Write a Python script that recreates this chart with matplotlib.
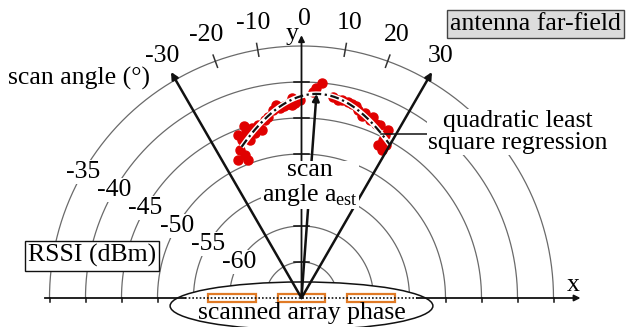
import numpy as np
import matplotlib
matplotlib.use('Agg')
import matplotlib.pyplot as plt
from matplotlib.patches import Ellipse, Rectangle

plt.rcParams['font.family'] = ['Liberation Serif', 'DejaVu Serif']
plt.rcParams['mathtext.fontset'] = 'custom'
plt.rcParams['mathtext.rm'] = 'Liberation Serif'

# measured RSSI samples: scan angle (deg, from y axis) and RSSI (dBm)
scan_deg = [-22.6, -20.6, -18.6, -21.6, -16.2, -14.1, -11.6, -8.6, -6.5, -4.0,
            -1.9, -0.4, 5.4, 3.2, 8.9, 11.6, 14.6, 16.7, 18.9, 21.6,
            24.4, 27.1, 28.9, 26.6, -13.2, -24.7, -18.1, -2.7, -15.7, -10.5,
            -5.2, 13.3, 21.0, 27.3, 3.9, -18.5, -21.3, -7.5, -2.8, 10.4,
            15.8, 18.4, 23.2, 27.2, 28.5, -21.2]
rssi_dbm = [-47.7, -46.6, -45.8, -48.6, -45.4, -45.2, -44.8, -43.6, -43.4, -43.0,
            -42.9, -42.5, -40.0, -41.3, -41.7, -41.9, -42.2, -42.7, -42.8, -43.0,
            -43.6, -44.6, -45.7, -46.2, -46.0, -48.9, -46.9, -42.2, -46.2, -44.4,
            -43.2, -42.0, -43.5, -45.3, -40.8, -44.8, -45.7, -43.0, -43.2, -42.0,
            -42.3, -43.4, -43.7, -43.8, -46.6, -49.4]

rssi_rings = [-65, -60, -55, -50, -45, -40, -35]
angle_ticks = [-30, -20, -10, 0, 10, 20, 30]
element_x = [-1.93, 0.0, 1.94]


def to_r(v):
    return (np.asarray(v, dtype=float) + 70) / 5.0


fig = plt.figure(figsize=(6.27, 3.27), dpi=100)
ax = fig.add_axes([0, 0, 1, 1])
ax.set_xlim(-301.5 / 36, 325.5 / 36)
ax.set_ylim(-29 / 36, 298 / 36)
ax.axis('off')

fs = 18.5
ring_col = '#6a6a6a'

# RSSI rings
t = np.linspace(0, np.pi, 400)
for v in rssi_rings:
    r = to_r(v)
    ax.plot(r * np.cos(t), r * np.sin(t), color=ring_col, lw=0.9, zorder=1)
    if v > -65:
        a = np.radians(150)
        ax.text(r * np.cos(a), r * np.sin(a), str(v), fontsize=fs, ha='center', va='center',
                zorder=6, bbox=dict(facecolor='white', edgecolor='none', pad=0.5))

# scan angle ticks / labels
for a in angle_ticks:
    th = np.radians(a)
    s, c = np.sin(th), np.cos(th)
    if a in (-20, -10, 10, 20):
        ax.plot([6.82 * s, 7.18 * s], [6.82 * c, 7.18 * c], color='#333333', lw=1.1, zorder=2)
    if abs(a) == 30:
        ax.annotate('', xy=(7.25 * s, 7.25 * c), xytext=(0, 0),
                    arrowprops=dict(arrowstyle='-|>', lw=1.8, color='#111111',
                                    mutation_scale=10, shrinkA=0, shrinkB=0), zorder=5)
    dx = 0.08 if a == 0 else 0.0
    ax.text(7.72 * s + dx, 7.76 * c, str(a), fontsize=fs, ha='center', va='center', zorder=6)

# y axis with ring ticks
ax.annotate('', xy=(0, 7.3), xytext=(0, 0),
            arrowprops=dict(arrowstyle='-|>', lw=1.3, color='#111111',
                            mutation_scale=9, shrinkA=0, shrinkB=0), zorder=5)
for v in rssi_rings[:-1]:
    r = to_r(v)
    ax.plot([-0.2, 0.2], [r, r], color='#111111', lw=1.1, zorder=5)
ax.text(-0.26, 7.34, 'y', fontsize=fs, ha='center', va='center', zorder=6)

# x axis
ax.plot([-7.12, -3.25], [0, 0], color='#111111', lw=1.3, zorder=4)
ax.annotate('', xy=(7.75, 0), xytext=(3.2, 0),
            arrowprops=dict(arrowstyle='-|>', lw=1.3, color='#111111',
                            mutation_scale=9, shrinkA=0, shrinkB=0), zorder=4)
for v in rssi_rings[3:]:
    r = to_r(v)
    for sx in (-1, 1):
        ax.plot([sx * r, sx * r], [0, -0.1], color='#111111', lw=1.1, zorder=4)
ax.text(7.54, 0.36, 'x', fontsize=fs, ha='center', va='center', zorder=6)

# scanned array
ax.add_patch(Ellipse((0, -0.22), 7.3, 1.33, facecolor='white', edgecolor='#111111',
                     lw=1.1, zorder=2))
for ex in element_x:
    ax.add_patch(Rectangle((ex - 0.665, -0.11), 1.33, 0.22, facecolor='white',
                           edgecolor='#e07a25', lw=1.6, zorder=2.5))
ax.plot([-3.25, 3.2], [0, 0], color='#111111', lw=1.2, ls=(0, (1, 1.2)), zorder=2.6)
ax.text(0, -0.42, 'scanned array phase', fontsize=fs, ha='center', va='center', zorder=3)

# measured samples and quadratic least square regression
r_pts = to_r(rssi_dbm)
th_pts = np.radians(scan_deg)
px = r_pts * np.sin(th_pts)
py = r_pts * np.cos(th_pts)
ax.plot(px, py, 'o', color='#e00000', ms=6.5, mec='#e00000', zorder=3)

coef = np.polyfit(px, py, 2)
xf = np.linspace(px.min() + 0.1, px.max() + 0.05, 200)
yf = np.polyval(coef, xf)
ax.plot(xf, yf, color='white', lw=3.6, zorder=3.5, solid_capstyle='butt')
ax.plot(xf, yf, color='#111111', lw=1.6, ls=(0, (4, 1.6, 1, 1.6)), zorder=4)

x0 = -coef[1] / (2 * coef[0])
y0 = np.polyval(coef, x0)
ax.annotate('', xy=(x0, y0), xytext=(0, 0),
            arrowprops=dict(arrowstyle='-|>', lw=1.8, color='#111111',
                            mutation_scale=10, shrinkA=0, shrinkB=0), zorder=5)

# leader from curve to regression label
xl = xf[-12]
yl = np.polyval(coef, xl)
ax.plot([xl, 3.85], [yl, yl], color='#111111', lw=1.1, zorder=5)

# labels
ax.text(-8.15, 6.11, 'scan angle (\u00b0)', fontsize=fs, ha='left', va='center', zorder=6)
ax.text(4.125, 7.61, 'antenna far-field', fontsize=fs, ha='left', va='center', zorder=6,
        bbox=dict(boxstyle='square,pad=0.12', facecolor='#dcdcdc', edgecolor='#444444', lw=1.0))
ax.text(-5.82, 1.17, 'RSSI (dBm)', fontsize=fs, ha='center', va='center', zorder=6,
        bbox=dict(boxstyle='square,pad=0.12', facecolor='white', edgecolor='#111111', lw=1.0))
ax.text(6.01, 4.61, 'quadratic least\nsquare regression', fontsize=fs, ha='center',
        va='center', linespacing=1.05, zorder=6,
        bbox=dict(facecolor='white', edgecolor='none', pad=0.5))
ax.text(0.24, 3.17, 'scan\nangle a$_{\\mathrm{est}}$', fontsize=fs, ha='center',
        va='center', linespacing=1.05, zorder=6,
        bbox=dict(facecolor='white', edgecolor='none', pad=0.5))

fig.savefig('out.png', dpi=100)
